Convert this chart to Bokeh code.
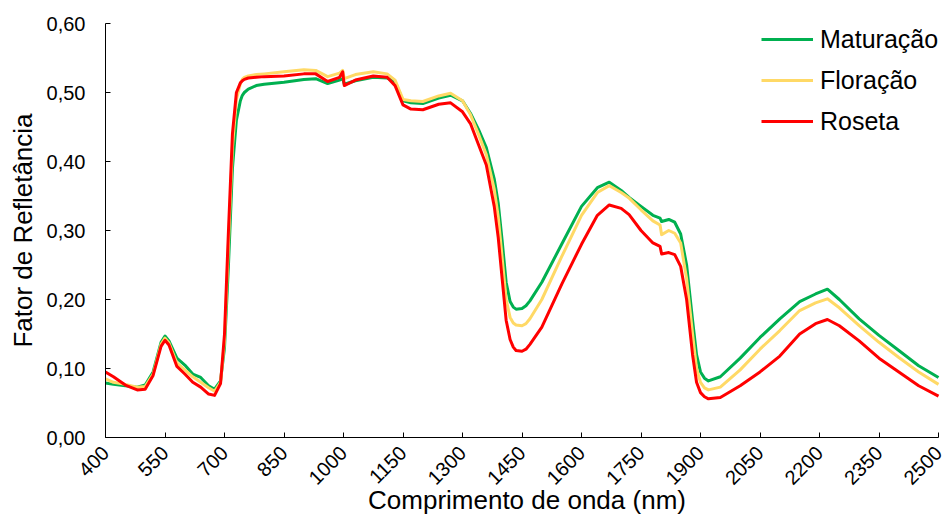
import math
from bokeh.plotting import figure
from bokeh.models import FixedTicker, CustomJSTickFormatter, Legend, LegendItem, Range1d
from bokeh.embed import file_html
from bokeh.resources import INLINE

# ---- data ----
wavelength = [400, 420, 450, 480, 500, 520, 540, 550, 560, 580, 600, 620, 640, 660, 675, 690,
              700, 710, 720, 730, 740, 745, 750, 760, 780, 800, 850, 900, 930, 960, 990, 998, 1002,
              1030, 1075, 1110, 1130, 1150, 1170, 1200, 1240, 1270, 1300, 1320, 1340, 1360, 1380,
              1390, 1400, 1410, 1420, 1428, 1435, 1450, 1460, 1470, 1500, 1550, 1600, 1640, 1670, 1700, 1720,
              1750, 1780, 1798, 1802, 1820, 1835, 1850, 1865, 1880, 1890, 1900, 1910, 1920, 1950, 2000,
              2050, 2100, 2150, 2190, 2220, 2250, 2300, 2350, 2400, 2450, 2500]

maturacao = [0.079, 0.077, 0.075, 0.073, 0.076, 0.095, 0.138, 0.147, 0.140, 0.115, 0.105, 0.092, 0.087, 0.075, 0.070, 0.082,
             0.130, 0.250, 0.390, 0.460, 0.488, 0.496, 0.500, 0.505, 0.510, 0.512, 0.515, 0.519, 0.520, 0.513, 0.518, 0.520, 0.512,
             0.517, 0.522, 0.521, 0.515, 0.488, 0.485, 0.484, 0.492, 0.496, 0.488, 0.470, 0.447, 0.420, 0.375,
             0.340, 0.285, 0.225, 0.197, 0.189, 0.186, 0.187, 0.191, 0.198, 0.225, 0.280, 0.335, 0.362, 0.370, 0.358, 0.348,
             0.335, 0.322, 0.318, 0.313, 0.316, 0.312, 0.295, 0.250, 0.170, 0.120, 0.095, 0.086, 0.082, 0.088, 0.115,
             0.145, 0.172, 0.197, 0.208, 0.215, 0.200, 0.172, 0.148, 0.126, 0.104, 0.087]

floracao = [0.085, 0.080, 0.077, 0.073, 0.074, 0.092, 0.135, 0.144, 0.137, 0.108, 0.098, 0.088, 0.080, 0.072, 0.067, 0.080,
            0.140, 0.280, 0.420, 0.490, 0.513, 0.519, 0.522, 0.524, 0.526, 0.527, 0.530, 0.533, 0.532, 0.523, 0.528, 0.532, 0.520,
            0.526, 0.530, 0.527, 0.518, 0.490, 0.488, 0.487, 0.495, 0.499, 0.488, 0.468, 0.440, 0.410, 0.360,
            0.320, 0.260, 0.200, 0.174, 0.166, 0.163, 0.162, 0.165, 0.172, 0.200, 0.262, 0.322, 0.355, 0.365, 0.355, 0.347,
            0.330, 0.314, 0.308, 0.294, 0.300, 0.296, 0.282, 0.230, 0.150, 0.100, 0.080, 0.072, 0.069, 0.073, 0.098,
            0.128, 0.155, 0.184, 0.195, 0.201, 0.188, 0.162, 0.138, 0.116, 0.095, 0.077]

roseta = [0.095, 0.088, 0.076, 0.069, 0.070, 0.090, 0.132, 0.141, 0.134, 0.103, 0.092, 0.080, 0.073, 0.063, 0.061, 0.078,
          0.150, 0.300, 0.440, 0.500, 0.514, 0.517, 0.519, 0.521, 0.522, 0.523, 0.524, 0.527, 0.527, 0.516, 0.522, 0.530, 0.510,
          0.518, 0.524, 0.522, 0.510, 0.482, 0.476, 0.475, 0.483, 0.485, 0.472, 0.455, 0.425, 0.395, 0.335,
          0.290, 0.230, 0.170, 0.142, 0.131, 0.126, 0.125, 0.128, 0.135, 0.160, 0.222, 0.280, 0.322, 0.337, 0.332, 0.323,
          0.300, 0.282, 0.277, 0.266, 0.268, 0.265, 0.248, 0.200, 0.120, 0.080, 0.065, 0.059, 0.056, 0.058, 0.075,
          0.095, 0.118, 0.150, 0.165, 0.171, 0.162, 0.140, 0.115, 0.095, 0.075, 0.060]

series_names = ["Maturação", "Floração", "Roseta"]
series_colors = ["#00B050", "#FFD966", "#FF0000"]
x_ticks = [400, 550, 700, 850, 1000, 1150, 1300, 1450, 1600, 1750, 1900, 2050, 2200, 2350, 2500]
y_ticks = [0.0, 0.1, 0.2, 0.3, 0.4, 0.5, 0.6]

FONT = "Liberation Sans"

# frame spans to the window edge; x range extended so that 2500 sits 10 px from the right
p = figure(width=948, height=517, output_backend="svg", toolbar_location=None,
           x_range=Range1d(400, 2525.2), y_range=Range1d(0, 0.6),
           min_border_left=105, min_border_right=0, min_border_top=23, min_border_bottom=78)
p.outline_line_color = None
p.grid.visible = False
p.background_fill_color = "white"
p.border_fill_color = "white"

renderers = []
for vals, col in zip([maturacao, floracao, roseta], series_colors):
    r = p.line(wavelength, vals, line_color=col, line_width=3, line_join="round")
    renderers.append(r)

# axes
xa = p.xaxis[0]
xa.ticker = FixedTicker(ticks=x_ticks)
xa.bounds = (400, 2500)
xa.major_label_orientation = math.pi / 4
xa.major_tick_in = 5
xa.major_tick_out = 0
xa.minor_tick_in = 0
xa.minor_tick_out = 0
xa.axis_line_color = "black"
xa.major_tick_line_color = "black"
xa.major_label_text_font = FONT
xa.major_label_text_font_size = "20px"
xa.major_label_text_color = "black"
xa.major_label_standoff = 12
xa.axis_label = "Comprimento de onda (nm)"
xa.axis_label_text_font = FONT
xa.axis_label_text_font_size = "26px"
xa.axis_label_text_font_style = "normal"
xa.axis_label_text_color = "black"
xa.axis_label_standoff = -9

ya = p.yaxis[0]
ya.ticker = FixedTicker(ticks=y_ticks)
ya.formatter = CustomJSTickFormatter(code="return tick.toFixed(2).replace('.', ',');")
ya.major_tick_in = 5
ya.major_tick_out = 0
ya.minor_tick_in = 0
ya.minor_tick_out = 0
ya.axis_line_color = "black"
ya.major_tick_line_color = "black"
ya.major_label_text_font = FONT
ya.major_label_text_font_size = "20px"
ya.major_label_text_color = "black"
ya.major_label_standoff = 20
ya.axis_label = "Fator de Refletância"
ya.axis_label_text_font = FONT
ya.axis_label_text_font_size = "26px"
ya.axis_label_text_font_style = "normal"
ya.axis_label_text_color = "black"
ya.axis_label_standoff = 6

legend = Legend(items=[LegendItem(label=n, renderers=[r]) for n, r in zip(series_names, renderers)],
                location=(656, 301), padding=0, margin=0, spacing=11,
                glyph_width=52, glyph_height=30, label_height=30, label_standoff=7,
                label_text_font=FONT, label_text_font_size="25px", label_text_color="black",
                border_line_color=None, background_fill_alpha=0)
p.add_layout(legend, "center")

open("out.html", "w").write(file_html(p, INLINE))
